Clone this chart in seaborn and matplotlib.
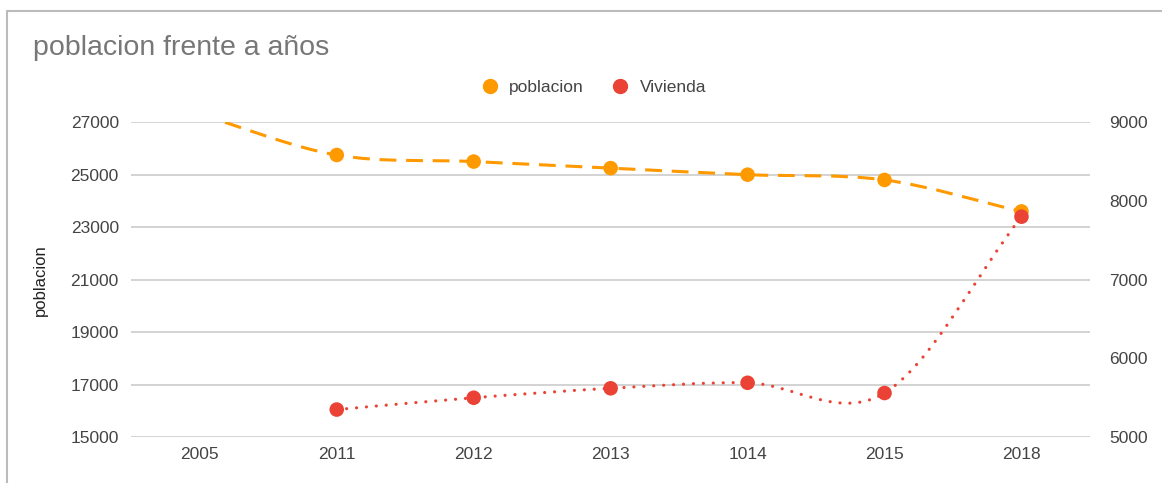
import numpy as np
import pandas as pd
import matplotlib
matplotlib.use("Agg")
import matplotlib.pyplot as plt
from matplotlib.path import Path
from matplotlib.patches import PathPatch
from matplotlib.lines import Line2D
import seaborn as sns

# datos
anios = ["2005", "2011", "2012", "2013", "1014", "2015", "2018"]
poblacion = [27300, 25750, 25500, 25250, 25000, 24800, 23600]
vivienda = [np.nan, 5350, 5500, 5620, 5690, 5560, 7800]

left_ticks = [15000, 17000, 19000, 21000, 23000, 25000, 27000]
right_ticks = [5000, 6000, 7000, 8000, 9000]

COL_POB = "#ff9900"
COL_VIV = "#ea4335"
GRIS = "#444444"

sns.set_style("white")
plt.rcParams["font.family"] = ["Liberation Sans", "DejaVu Sans"]

df = pd.DataFrame({"anio": anios, "pos": range(len(anios)),
                   "poblacion": poblacion, "vivienda": vivienda})


def curva_suave(x, y):
    """Path con curvas bezier (estilo catmull-rom) entre los puntos."""
    x = np.asarray(x, float)
    y = np.asarray(y, float)
    n = len(x)
    tang = np.zeros(n)
    for i in range(n):
        a = max(i - 1, 0)
        b = min(i + 1, n - 1)
        tang[i] = (y[b] - y[a]) / (x[b] - x[a])
    verts = [(x[0], y[0])]
    codes = [Path.MOVETO]
    for i in range(n - 1):
        dx = (x[i + 1] - x[i]) / 3
        verts += [(x[i] + dx, y[i] + tang[i] * dx),
                  (x[i + 1] - dx, y[i + 1] - tang[i + 1] * dx),
                  (x[i + 1], y[i + 1])]
        codes += [Path.CURVE4] * 3
    return Path(verts, codes)


fig = plt.figure(figsize=(11.62, 4.83), dpi=100)
ax = fig.add_axes([0.113, 0.095, 0.825, 0.652])
ax2 = ax.twinx()

# poblacion (eje izquierdo)
ax.add_patch(PathPatch(curva_suave(df["pos"], df["poblacion"]), fill=False,
                       edgecolor=COL_POB, lw=2.2, ls=(0, (5.5, 3.2)), zorder=3))
sns.scatterplot(data=df, x="pos", y="poblacion", ax=ax, color=COL_POB,
                s=110, edgecolor="none", zorder=4)

# vivienda (eje derecho)
dv = df.dropna(subset=["vivienda"])
ax2.add_patch(PathPatch(curva_suave(dv["pos"], dv["vivienda"]), fill=False,
                        edgecolor=COL_VIV, lw=2.3, ls=(0, (0.01, 3.1)),
                        capstyle="round", zorder=3))
sns.scatterplot(data=dv, x="pos", y="vivienda", ax=ax2, color=COL_VIV,
                s=110, edgecolor="none", zorder=4)

ax.set_xlim(-0.5, len(anios) - 0.5)
ax.set_ylim(15000, 27000)
ax2.set_ylim(5000, 9000)
ax.set_yticks(left_ticks)
ax2.set_yticks(right_ticks)
ax.set_xticks(range(len(anios)))
ax.set_xticklabels(anios)

ax.grid(axis="y", color="#cccccc", lw=1.2)
ax.set_axisbelow(True)
for a in (ax, ax2):
    for s in a.spines.values():
        s.set_visible(False)
    a.tick_params(length=0, labelsize=12.5, labelcolor=GRIS)
ax.tick_params(axis="y", pad=9)
ax2.tick_params(axis="y", pad=14)
ax.tick_params(axis="x", pad=7)
ax.set_xlabel("")
ax.set_ylabel("poblacion", fontsize=12, color="#222222", labelpad=16)
ax2.set_ylabel("")

fig.text(0.028, 0.9, "poblacion frente a años", fontsize=20.5, color="#777777",
         va="center", ha="left")

handles = [Line2D([], [], marker="o", ls="", color=COL_POB, markersize=10),
           Line2D([], [], marker="o", ls="", color=COL_VIV, markersize=10)]
fig.legend(handles, ["poblacion", "Vivienda"], loc="center",
           bbox_to_anchor=(0.511, 0.818), ncol=2, frameon=False,
           fontsize=12.5, labelcolor=GRIS, handletextpad=0.6,
           columnspacing=1.6, handlelength=1.0)

# marco de la hoja de calculo
fig.add_artist(Line2D([0.006, 1.0], [0.977, 0.977], color="#bbbbbb", lw=1.5))
fig.add_artist(Line2D([0.006, 0.006], [0.0, 0.977], color="#bbbbbb", lw=1.5))

fig.savefig("out.png", dpi=100, facecolor="white")
